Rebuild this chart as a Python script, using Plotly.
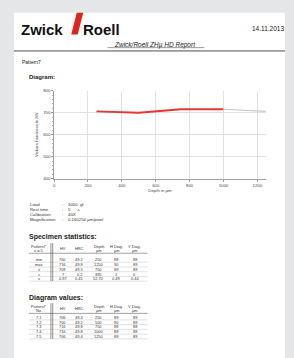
import plotly.graph_objects as go

W, H = 294, 358

# ---------------- data ----------------
depths = [250, 500, 750, 1000, 1250]
hv = [706, 700, 716, 716, 706]
hrc = ["49.4", "49.2", "49.8", "49.8", "49.4"]
h_diag = ["89", "90", "88", "88", "89"]
v_diag = ["89", "89", "88", "88", "89"]
point_labels = ["7.1", "7.2", "7.3", "7.4", "7.5"]

stat_labels = ["min", "max", "x̄", "s", "ν"]
stat_hv = ["700", "716", "709", "7", "0.97"]
stat_hrc = ["49.2", "49.8", "49.5", "0.2", "0.45"]
stat_depth = ["250", "1250", "750", "395", "52.70"]
stat_hdiag = ["88", "90", "89", "1", "0.49"]
stat_vdiag = ["88", "89", "89", "0", "0.44"]

x_ticks = [0, 200, 400, 600, 800, 1000, 1200]
y_ticks = [400, 500, 600, 700, 800]

params = [("Load", "3000  gf"), ("Rest time", "5      s"),
          ("Calibration", "40X"), ("Magnification", "0.160254 µm/pixel")]


def X(px):
    return px / W


def Y(py):
    return 1 - py / H


FONT = "Liberation Sans, Arial, sans-serif"
TXT = "#333333"

fig = go.Figure()

# chart traces
fig.add_trace(go.Scatter(x=depths[:4], y=hv[:4], mode="lines",
                         line=dict(color="#ee3333", width=1.8),
                         hoverinfo="skip"))
fig.add_trace(go.Scatter(x=depths[3:], y=hv[3:], mode="lines",
                         line=dict(color="#c8c8c8", width=1.2),
                         hoverinfo="skip"))

annotations = []
shapes = []

# page
shapes.append(dict(type="rect", xref="paper", yref="paper",
                   x0=X(13), x1=X(285), y0=Y(362), y1=Y(11),
                   fillcolor="white", line=dict(width=0), layer="below"))


def txt(s, px, py, size, anchor="left", color=TXT, bold=False, italic=False,
        family=FONT):
    t = s
    if bold:
        t = "<b>" + t + "</b>"
    if italic:
        t = "<i>" + t + "</i>"
    annotations.append(dict(text=t, x=X(px), y=Y(py), xref="paper",
                            yref="paper", xanchor=anchor, yanchor="middle",
                            showarrow=False, borderpad=0,
                            font=dict(size=size, color=color, family=family)))


def hline(x0, x1, py, color, width):
    shapes.append(dict(type="line", xref="paper", yref="paper",
                       x0=X(x0), x1=X(x1), y0=Y(py), y1=Y(py),
                       line=dict(color=color, width=width)))


def vline(px, y0, y1, color, width):
    shapes.append(dict(type="line", xref="paper", yref="paper",
                       x0=X(px), x1=X(px), y0=Y(y0), y1=Y(y1),
                       line=dict(color=color, width=width)))


# header / logo
txt("Zwick", 19.5, 27.8, 15, bold=True, color="#111111")
txt("Roell", 81.5, 27.8, 15, bold=True, color="#111111")
shapes.append(dict(type="path", xref="paper", yref="paper",
                   path=f"M {X(70.5)},{Y(33)} L {X(77)},{Y(33)} "
                        f"L {X(82.5)},{Y(11)} L {X(76)},{Y(11)} Z",
                   fillcolor="#e2231a", line=dict(width=0)))
txt("14.11.2013", 285, 27, 6.5, anchor="right", color="#222222")
txt("Zwick/Roell ZHµ HD Report", 155, 43.3, 6.5, anchor="center",
    italic=True, color="#222222")
hline(107, 204, 46.3, "#555555", 0.6)
hline(13, 285, 49.5, "#9a9a9a", 1.8)
txt("Pattern7", 20.5, 60.5, 5, color="#222222")
txt("Diagram:", 27.5, 76, 6, bold=True, color="#222222")

# parameter block
for i, (k, v) in enumerate(params):
    py = 205 + i * 5.1
    txt(k, 28, py, 4.3)
    txt(":", 60, py, 4.3)
    txt(v, 66.5, py, 4.3)

# tables
col_centers = [38, 62, 78.5, 98, 115.5, 134]
tab_left, tab_right, vl = 28, 147, 51


def table(title, title_y, head2, head_y, row_y, rows):
    txt(title, 27.5, title_y, 7, bold=True, color="#222222")
    heads1 = ["Pattern7", "HV", "HRC", "Depth", "H Diag.", "V Diag."]
    heads2 = [head2, "", "", "µm", "µm", "µm"]
    for c, h1, h2 in zip(col_centers, heads1, heads2):
        if h2:
            txt(h1, c, head_y, 3.9, anchor="center")
            txt(h2, c, head_y + 4.5, 3.9, anchor="center")
        else:
            txt(h1, c, head_y + 2, 3.9, anchor="center")
    hline(tab_left, tab_right, head_y + 7.3, "#8a8a8a", 0.8)
    for r, cells in enumerate(rows):
        py = row_y + r * 4.8
        for c, cell in zip(col_centers, cells):
            txt(cell, c, py, 3.9, anchor="center")
        hline(tab_left, tab_right, py + 2.4, "#c4c4c4", 0.5)
    bottom = row_y + (len(rows) - 1) * 4.8 + 2.4
    vline(vl - 0.9, head_y - 3, bottom, "#444444", 0.6)
    vline(vl + 0.9, head_y - 3, bottom, "#444444", 0.6)


stat_rows = list(zip(stat_labels, stat_hv, stat_hrc, stat_depth,
                     stat_hdiag, stat_vdiag))
table("Specimen statistics:", 238, "n = 5", 247.5, 261.5, stat_rows)

val_rows = list(zip(point_labels, [str(v) for v in hv], hrc,
                    [str(d) for d in depths], h_diag, v_diag))
table("Diagram values:", 300.5, "No.", 308.5, 320, val_rows)

fig.update_layout(
    width=W, height=H,
    margin=dict(l=0, r=0, t=0, b=0),
    paper_bgcolor="#e5e6e8",
    plot_bgcolor="white",
    showlegend=False,
    annotations=annotations,
    shapes=shapes,
    xaxis=dict(domain=[X(53.3), X(265.7)], range=[0, 1250],
               tickvals=x_ticks, ticktext=[str(t) for t in x_ticks],
               showgrid=True, gridcolor="#e2e2e2", gridwidth=0.7,
               showline=True, linecolor="#a0a0a0", linewidth=0.8,
               mirror=False, ticks="outside", ticklen=2, tickcolor="#a0a0a0",
               tickfont=dict(size=4.3, color="#444444", family=FONT),
               title=dict(text="Depth in µm", standoff=1,
                          font=dict(size=4.3, color="#444444", family=FONT)),
               zeroline=False, fixedrange=True),
    yaxis=dict(domain=[Y(179.3), Y(90)], range=[400, 800],
               tickvals=y_ticks, ticktext=[str(t) for t in y_ticks],
               showgrid=True, gridcolor="#e2e2e2", gridwidth=0.7,
               showline=True, linecolor="#a0a0a0", linewidth=0.8,
               ticks="outside", ticklen=2, tickcolor="#a0a0a0",
               minor=dict(dtick=20, ticks="outside", ticklen=1.2,
                          tickcolor="#b0b0b0", showgrid=False),
               tickfont=dict(size=4.3, color="#444444", family=FONT),
               title=dict(text="Vickers hardness in HV", standoff=4,
                          font=dict(size=4.3, color="#444444", family=FONT)),
               zeroline=False, fixedrange=True),
)

fig.write_html("out.html", config={"displayModeBar": False},
               post_script="document.body.style.margin='0';"
                           "document.body.style.overflow='hidden';")
